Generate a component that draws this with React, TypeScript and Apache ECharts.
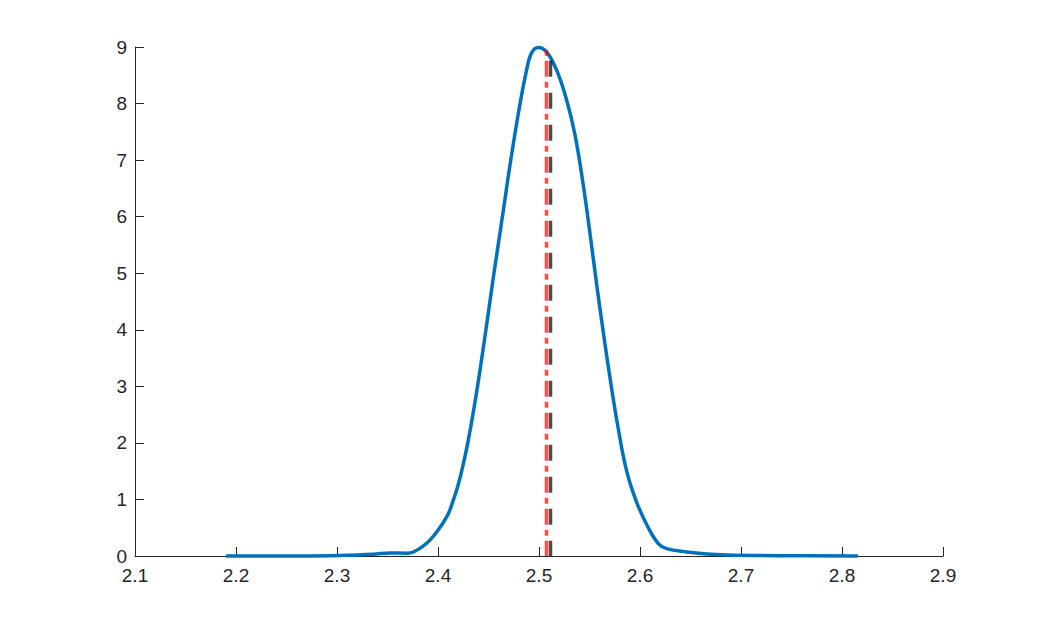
import React, { useEffect, useRef } from "react";
import * as echarts from "echarts";

const densityX = [
  2.19, 2.2634, 2.303, 2.3356, 2.3525, 2.369, 2.3756, 2.392, 2.4086, 2.415, 2.42, 2.425,
  2.43, 2.435, 2.44, 2.445, 2.45, 2.455, 2.46, 2.465, 2.471, 2.4795, 2.4878, 2.4928,
  2.4993, 2.5076, 2.5175, 2.5274, 2.5356, 2.5439, 2.5505, 2.5571, 2.5637, 2.5703, 2.5785,
  2.5868, 2.5967, 2.6082, 2.6181, 2.6264, 2.6465, 2.666, 2.6856, 2.7386, 2.8158,
];
const densityY = [
  0, 0.002, 0.01, 0.03, 0.055, 0.05, 0.07, 0.28, 0.69, 0.98, 1.26, 1.62,
  2.05, 2.55, 3.1, 3.7, 4.32, 4.95, 5.55, 6.15, 6.88, 7.82, 8.6, 8.9,
  8.99, 8.91, 8.59, 8.06, 7.45, 6.55, 5.7, 4.8, 3.95, 3.15, 2.25,
  1.5, 0.95, 0.5, 0.22, 0.13, 0.07, 0.035, 0.018, 0.005, 0,
];
const meanX = 2.5074;
const trueX = 2.5114;
const lineTop = 8.97;
const xTicks = [2.1, 2.9];
const yTicks = [0, 9];

export default function App() {
  const ref = useRef<HTMLDivElement>(null);
  useEffect(() => {
    if (!ref.current) return;
    const chart = echarts.init(ref.current, null, { renderer: "svg" });
    const axisColor = "#262626";
    const labelStyle = {
      color: axisColor,
      fontSize: 19,
      fontFamily: "Liberation Sans, Arial, sans-serif",
    };
    chart.setOption({
      animation: false,
      backgroundColor: "#ffffff",
      grid: { left: 135, right: 99, top: 47, bottom: 69, containLabel: false },
      xAxis: {
        type: "value",
        min: xTicks[0],
        max: xTicks[1],
        interval: 0.1,
        axisLine: { onZero: false, lineStyle: { color: axisColor, width: 1 } },
        axisTick: { inside: true, length: 9, lineStyle: { color: axisColor } },
        splitLine: { show: false },
        axisLabel: {
          ...labelStyle,
          margin: 10,
          formatter: (v: number) => v.toFixed(1),
        },
      },
      yAxis: {
        type: "value",
        min: yTicks[0],
        max: yTicks[1],
        interval: 1,
        axisLine: { show: true, lineStyle: { color: axisColor, width: 1 } },
        axisTick: { show: true, inside: true, length: 9, lineStyle: { color: axisColor } },
        splitLine: { show: false },
        axisLabel: { ...labelStyle, margin: 8 },
      },
      series: [
        {
          type: "line",
          data: densityX.map((x, i) => [x, densityY[i]]),
          showSymbol: false,
          smooth: 0.4,
          clip: false,
          lineStyle: { color: "#0072BD", width: 3.5 },
          z: 2,
        },
        {
          type: "line",
          data: [
            [trueX, lineTop],
            [trueX, 0],
          ],
          showSymbol: false,
          lineStyle: { color: "rgba(0,0,0,0.7)", width: 3.5, type: [16, 16], dashOffset: 20 },
          z: 3,
        },
        {
          type: "line",
          data: [
            [meanX, lineTop],
            [meanX, 0],
          ],
          showSymbol: false,
          lineStyle: { color: "rgba(255,0,0,0.7)", width: 3.5, type: [16, 5, 6, 5], dashOffset: 20 },
          z: 4,
        },
      ],
    });
    return () => chart.dispose();
  }, []);
  return <div ref={ref} style={{ width: 1042, height: 625, position: "absolute", left: 0, top: 0 }} />;
}
